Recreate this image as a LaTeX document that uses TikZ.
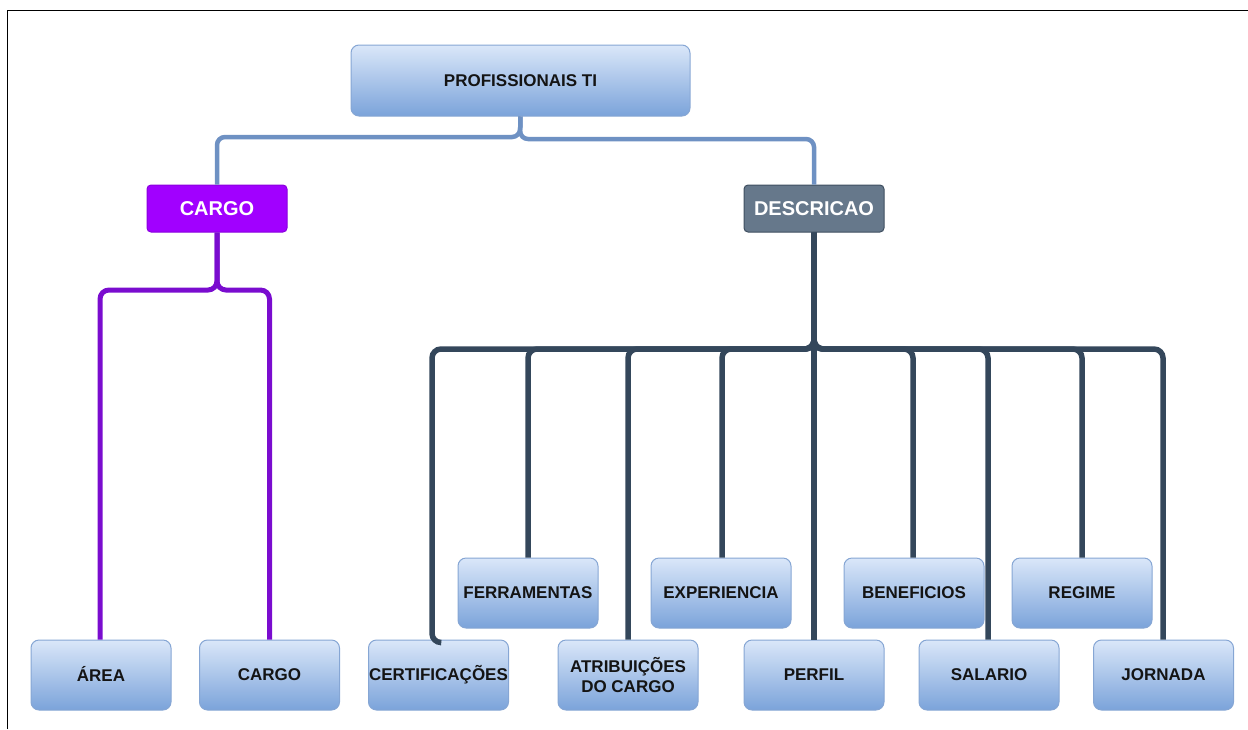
\documentclass[tikz,border=0pt]{standalone}
\usepackage{fontspec}
\setmainfont{Liberation Sans}
\definecolor{boxtop}{HTML}{DAE7F9}
\definecolor{boxbot}{HTML}{7BA3DA}
\definecolor{boxline}{HTML}{86A6D4}
\definecolor{rootline}{HTML}{6E91C3}
\definecolor{cargofill}{HTML}{A100FF}
\definecolor{cargoline}{HTML}{8A00DD}
\definecolor{cargolink}{HTML}{7A0CCF}
\definecolor{descfill}{HTML}{66788B}
\definecolor{descline}{HTML}{3F4F60}
\definecolor{desclink}{HTML}{34475B}
\definecolor{labeltext}{HTML}{141414}
\tikzset{
  leaf/.style={rectangle, rounded corners=8pt, draw=boxline, line width=1pt,
    top color=boxtop, bottom color=boxbot, minimum width=140pt, minimum height=70pt,
    inner sep=0pt, align=center, text=labeltext,
    font=\fontsize{17}{20}\selectfont\bfseries},
  rootbox/.style={leaf, minimum width=339pt, minimum height=71pt},
  headbox/.style={rectangle, rounded corners=4pt, line width=1pt, minimum width=140pt,
    minimum height=47pt, inner sep=0pt, text=white,
    font=\fontsize{20}{24}\selectfont\bfseries},
  rootlink/.style={draw=rootline, line width=4.5pt, rounded corners=8pt},
  cargolinkstyle/.style={draw=cargolink, line width=5pt, rounded corners=9pt},
  desclinkstyle/.style={draw=desclink, line width=5.5pt, rounded corners=9pt},
}
\begin{document}
\begin{tikzpicture}[x=1pt, y=-1pt]
\useasboundingbox (0,0) rectangle (1248,729);
% frame
\draw[line width=1.3pt, black] (7.5,729) -- (7.5,10.5) -- (1248,10.5);

% bus points of the three trees
\coordinate (rootbusL) at (520,137);
\coordinate (rootbusR) at (520,139);
\coordinate (cargobus) at (217,290);
\coordinate (descbus) at (814,349);

% upper levels
\node[rootbox] (root) at (520.5,80.5) {PROFISSIONAIS TI};
\node[headbox, fill=cargofill, draw=cargoline] (cargo) at (217,208.5) {CARGO};
\node[headbox, fill=descfill, draw=descline] (desc) at (814,208.5) {DESCRICAO};

\draw[rootlink] (root.south) -- (rootbusL) -| (cargo.north);
\draw[rootlink] (root.south) -- (rootbusR) -| (desc.north);

% leaves
\node[leaf, text height=12.3pt, text depth=0pt] (area) at (101,675) {ÁREA};
\node[leaf] (cargo2) at (269.5,675) {CARGO};
\node[leaf] (ferr) at (528,593) {FERRAMENTAS};
\node[leaf] (expe) at (721,593) {EXPERIENCIA};
\node[leaf] (bene) at (914,593) {BENEFICIOS};
\node[leaf] (regi) at (1082,593) {REGIME};
\node[leaf] (cert) at (438.5,675) {CERTIFICAÇÕES};
\node[leaf] (atri) at (628,675) {ATRIBUIÇÕES\\DO CARGO};
\node[leaf] (perf) at (814,675) {PERFIL};
\node[leaf] (sala) at (989,675) {SALARIO};
\node[leaf] (jorn) at (1163.5,675) {JORNADA};

\draw[cargolinkstyle] (cargo.south) -- (cargobus) -| ([xshift=-1pt]area.north);
\draw[cargolinkstyle] (cargo.south) -- (cargobus) -| (cargo2.north);

\draw[desclinkstyle] (desc.south) -- (descbus) -| ([xshift=-6.5pt,yshift=-3pt]cert.north) -- ([xshift=1.5pt,yshift=-3pt]cert.north);
\draw[desclinkstyle] (desc.south) -- (descbus) -| (ferr.north);
\draw[desclinkstyle] (desc.south) -- (descbus) -| (atri.north);
\draw[desclinkstyle] (desc.south) -- (descbus) -| ([xshift=1pt]expe.north);
\draw[desclinkstyle] (desc.south) -- (perf.north);
\draw[desclinkstyle] (desc.south) -- (descbus) -| ([xshift=-1pt]bene.north);
\draw[desclinkstyle] (desc.south) -- (descbus) -| ([xshift=-1pt]sala.north);
\draw[desclinkstyle] (desc.south) -- (descbus) -| (regi.north);
\draw[desclinkstyle] (desc.south) -- (descbus) -| ([xshift=-0.5pt]jorn.north);
\end{tikzpicture}
\end{document}
